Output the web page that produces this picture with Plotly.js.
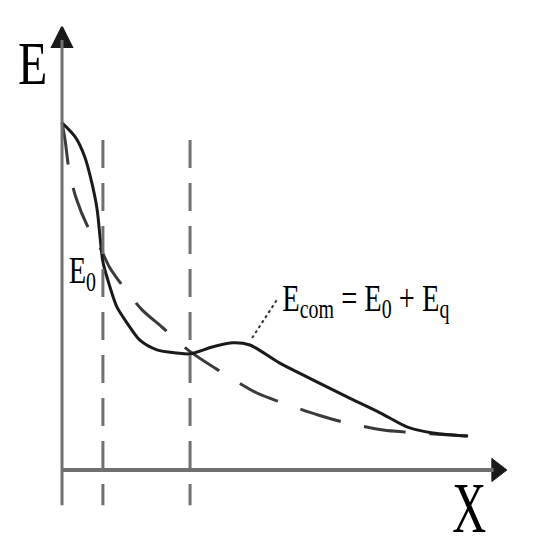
<!DOCTYPE html>
<html>
<head>
<meta charset="utf-8">
<script src="https://cdn.plot.ly/plotly-3.0.1.min.js"></script>
<style>html,body{margin:0;padding:0;background:#fff;}#chart{width:540px;height:550px;}</style>
</head>
<body>
<div id="chart"></div>
<script>
// Combined energy curve E_com = E0 + Eq (solid)
const comX = [0, 0.30, 0.52, 0.68, 0.80, 0.86, 0.93, 1.09, 1.25, 1.48, 1.77, 2.16, 2.61, 2.91, 3.43, 3.89, 4.27, 4.95, 5.70, 6.48, 7.23, 7.84, 8.43, 9.23];
const comY = [7.89, 7.57, 7.11, 6.52, 5.91, 5.34, 4.73, 4.16, 3.70, 3.34, 2.95, 2.73, 2.66, 2.64, 2.80, 2.89, 2.84, 2.43, 2.05, 1.66, 1.30, 0.98, 0.84, 0.77];
// Base energy curve E0 (dashed)
const e0X = [0, 0.07, 0.16, 0.32, 0.59, 0.84, 1.09, 1.45, 1.82, 2.27, 2.86, 3.55, 4.43, 4.95, 5.82, 6.39, 7.30, 7.84, 9.20];
const e0Y = [7.89, 7.50, 6.82, 6.18, 5.52, 5.11, 4.59, 4.09, 3.64, 3.25, 2.73, 2.27, 1.75, 1.55, 1.25, 1.09, 0.91, 0.86, 0.77];
// Vertical reference positions
const refX = [0.93, 2.91];
const refTop = 7.5;
const axisBottom = -0.80;
const xAxisEnd = 10.11;
const yAxisEnd = 10.07;

const traces = [
  {x: e0X, y: e0Y, mode: 'lines', line: {color: '#3a3a3a', width: 3, dash: '42px,24px', shape: 'spline', smoothing: 0.8}, hoverinfo: 'skip'},
  {x: comX, y: comY, mode: 'lines', line: {color: '#1a1a1a', width: 3, shape: 'spline', smoothing: 0.8}, hoverinfo: 'skip'},
  // axis arrowheads
  {x: [0], y: [yAxisEnd], mode: 'markers', marker: {symbol: 'arrow-up', size: 20, color: '#1a1a1a', line: {color: '#1a1a1a', width: 2}}, hoverinfo: 'skip'},
  {x: [xAxisEnd - 0.227], y: [0], mode: 'markers', marker: {symbol: 'triangle-right', size: 20, color: '#1a1a1a', line: {color: '#1a1a1a', width: 1}}, hoverinfo: 'skip'}
];

const shapes = [];
refX.forEach(v => shapes.push({type: 'line', xref: 'x', yref: 'y', x0: v, x1: v, y0: refTop, y1: axisBottom, line: {color: '#707070', width: 3, dash: '28px,15px'}}));
shapes.push({type: 'line', xref: 'x', yref: 'y', x0: 0, x1: 0, y0: axisBottom, y1: yAxisEnd - 0.3, line: {color: '#707070', width: 3}});
shapes.push({type: 'line', xref: 'x', yref: 'y', x0: 0, x1: xAxisEnd - 0.3, y0: 0, y1: 0, line: {color: '#707070', width: 4}});
// leader line
shapes.push({type: 'line', xref: 'x', yref: 'y', x0: 4.32, x1: 4.88, y0: 3.0, y1: 3.86, line: {color: '#333', width: 2, dash: 'dot'}});

const font = 'Liberation Serif, Times New Roman, serif';
const annotations = [
  {x: -0.67, y: 9.26, xref: 'x', yref: 'y', showarrow: false, text: 'E', font: {family: font, size: 48, color: '#000'}},
  {x: 9.27, y: -0.85, xref: 'x', yref: 'y', showarrow: false, text: 'X', font: {family: font, size: 48, color: '#000'}},
  {x: 0.47, y: 4.5, xref: 'x', yref: 'y', showarrow: false, text: 'E<sub>0</sub>', font: {family: font, size: 32, color: '#000'}},
  {x: 6.91, y: 3.86, xref: 'x', yref: 'y', showarrow: false, text: 'E<sub>com</sub> = E<sub>0</sub> + E<sub>q</sub>', font: {family: font, size: 32, color: '#000'}}
];
// horizontal / vertical stretch to mimic the condensed serif lettering
const stretch = [[1.0, 1.28], [0.98, 1.5], [0.89, 1.2], [0.89, 1.18]];

const layout = {
  width: 540, height: 550,
  margin: {l: 0, r: 0, t: 0, b: 0},
  paper_bgcolor: '#fff', plot_bgcolor: '#fff',
  showlegend: false,
  xaxis: {range: [-62/44, 478/44], visible: false, fixedrange: true},
  yaxis: {range: [-80/44, 470/44], visible: false, fixedrange: true},
  shapes: shapes,
  annotations: annotations
};

Plotly.newPlot('chart', traces, layout, {staticPlot: true}).then(gd => {
  gd.querySelectorAll('g.annotation').forEach(g => {
    const i = +g.getAttribute('data-index');
    const s = stretch[i];
    const t = g.querySelector('text.annotation-text');
    if (!s || !t) return;
    const b = t.getBBox();
    const cx = b.x + b.width / 2, cy = b.y + b.height / 2;
    const prev = t.getAttribute('transform') || '';
    t.setAttribute('transform', prev + ` translate(${cx},${cy}) scale(${s[0]},${s[1]}) translate(${-cx},${-cy})`);
  });
});
</script>
</body>
</html>
